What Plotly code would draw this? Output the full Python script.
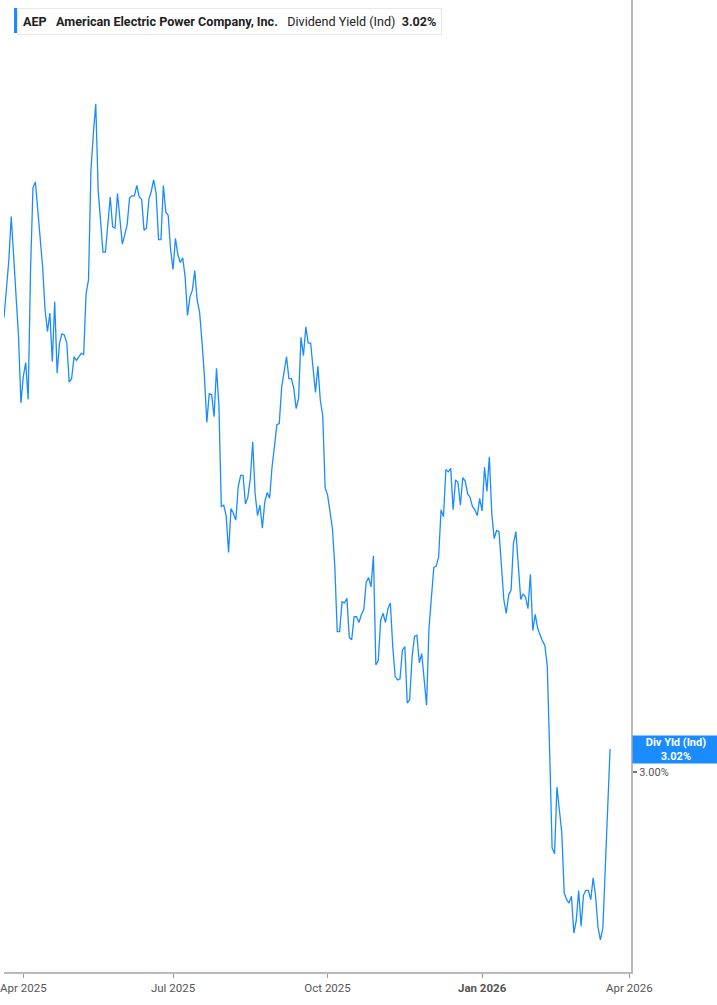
import pandas as pd
import plotly.graph_objects as go

# NYSE holidays inside the window (hidden from the trading-day axis)
holidays = ["2025-04-18", "2025-05-26", "2025-06-19", "2025-07-04", "2025-09-01",
            "2025-11-27", "2025-12-25", "2026-01-01", "2026-01-19", "2026-02-16"]
dates = pd.bdate_range("2025-03-20", "2026-03-20", freq="C", holidays=holidays)

# AEP dividend yield (indicated), %, one value per trading day
yields = [
    3.395, 3.422, 3.445, 3.483, 3.451, 3.419, 3.379, 3.321, 3.344, 3.356,
    3.324, 3.437, 3.508, 3.513, 3.489, 3.469, 3.439, 3.402, 3.383, 3.399,
    3.357, 3.409, 3.347, 3.373, 3.381, 3.380, 3.373, 3.339, 3.342, 3.361,
    3.358, 3.361, 3.364, 3.363, 3.416, 3.428, 3.523, 3.555, 3.581, 3.506,
    3.474, 3.452, 3.452, 3.474, 3.500, 3.474, 3.473, 3.503, 3.480, 3.459,
    3.467, 3.476, 3.499, 3.501, 3.501, 3.510, 3.500, 3.498, 3.471, 3.473,
    3.498, 3.505, 3.515, 3.503, 3.463, 3.463, 3.510, 3.487, 3.484, 3.454,
    3.437, 3.464, 3.450, 3.443, 3.447, 3.431, 3.397, 3.413, 3.419, 3.436,
    3.410, 3.400, 3.374, 3.344, 3.304, 3.329, 3.328, 3.309, 3.351, 3.319,
    3.231, 3.232, 3.223, 3.191, 3.229, 3.225, 3.219, 3.248, 3.258, 3.258,
    3.233, 3.239, 3.255, 3.287, 3.242, 3.223, 3.232, 3.212, 3.235, 3.243,
    3.238, 3.265, 3.283, 3.302, 3.303, 3.335, 3.348, 3.361, 3.342, 3.342,
    3.334, 3.316, 3.325, 3.378, 3.362, 3.387, 3.373, 3.373, 3.351, 3.330,
    3.353, 3.323, 3.310, 3.247, 3.241, 3.228, 3.212, 3.179, 3.122, 3.122,
    3.148, 3.147, 3.151, 3.117, 3.115, 3.135, 3.135, 3.130, 3.137, 3.141,
    3.165, 3.169, 3.161, 3.188, 3.093, 3.097, 3.132, 3.138, 3.130, 3.142,
    3.147, 3.109, 3.083, 3.080, 3.081, 3.106, 3.109, 3.060, 3.063, 3.100,
    3.118, 3.119, 3.095, 3.103, 3.081, 3.058, 3.125, 3.152, 3.178, 3.179,
    3.187, 3.228, 3.222, 3.263, 3.261, 3.264, 3.228, 3.254, 3.252, 3.232,
    3.256, 3.253, 3.242, 3.239, 3.231, 3.228, 3.223, 3.238, 3.227, 3.265,
    3.244, 3.274, 3.225, 3.203, 3.210, 3.209, 3.179, 3.150, 3.138, 3.154,
    3.158, 3.199, 3.209, 3.179, 3.150, 3.155, 3.152, 3.142, 3.172, 3.123,
    3.137, 3.125, 3.119, 3.114, 3.110, 3.092, 3.016, 2.934, 2.929, 2.987,
    2.967, 2.947, 2.895, 2.889, 2.886, 2.892, 2.860, 2.871, 2.897, 2.866,
    2.893, 2.897, 2.897, 2.889, 2.908, 2.892, 2.865, 2.854, 2.864, 2.912,
    2.970, 3.020,
]

tick_dates = ["2025-04-01", "2025-07-01", "2025-10-01", "2026-01-02", "2026-04-01"]
tick_labels = ["Apr 2025", "Jul 2025", "Oct 2025", "<b>Jan 2026</b>", "Apr 2026"]
y_ticks = [3.00]
y_tick_labels = ["3.00%"]

ticker = "AEP"
company = "American Electric Power Company, Inc."
metric = "Dividend Yield (Ind)"
short_metric = "Div Yld (Ind)"

n = min(len(dates), len(yields))
dates = dates[:n]
yields = yields[:n]
last = yields[-1]

BLUE = "#1a8cff"
AXIS = "#b9b9b9"
FONT = "Roboto, Inter, Arial, sans-serif"

fig = go.Figure()
fig.add_trace(go.Scatter(
    x=dates, y=yields, mode="lines",
    line=dict(color=BLUE, width=1.3),
    hovertemplate="%{x|%b %d, %Y}: %{y:.2f}%<extra></extra>",
    showlegend=False,
))

fig.update_layout(
    width=717, height=1005,
    margin=dict(l=0, r=86, t=0, b=33),
    paper_bgcolor="white", plot_bgcolor="white",
    font=dict(family=FONT, size=11, color="#555"),
    showlegend=False,
)

fig.update_xaxes(
    type="date",
    range=["2025-03-20", "2026-04-01 16:00"],
    rangebreaks=[dict(bounds=["sat", "mon"]), dict(values=holidays)],
    tickvals=tick_dates, ticktext=tick_labels,
    ticks="outside", ticklen=4, tickcolor="#9a9a9a", tickwidth=1,
    ticklabeloverflow="allow",
    tickfont=dict(family=FONT, size=11.5, color="#555"),
    showline=True, linecolor=AXIS, linewidth=2,
    showgrid=False, zeroline=False,
)

fig.update_yaxes(
    side="right",
    range=[2.8261, 3.6713],
    tickvals=y_ticks, ticktext=y_tick_labels,
    ticks="outside", ticklen=4, tickcolor="#777", tickwidth=2,
    tickfont=dict(family=FONT, size=11, color="#555"),
    showline=True, linecolor=AXIS, linewidth=2,
    showgrid=False, zeroline=False,
)

# current-value tag on the right axis
fig.add_annotation(
    x=1, xref="paper", xanchor="left", xshift=1,
    y=last, yref="y", yanchor="middle",
    text=f"<b>{short_metric}</b><br><b>{last:.2f}%</b>",
    showarrow=False, bgcolor=BLUE, borderpad=1,
    width=84, height=25, align="center",
    font=dict(family=FONT, size=11, color="white"),
)

# header legend box
fig.add_annotation(
    x=0, xref="paper", xanchor="left", xshift=13,
    y=1, yref="paper", yanchor="top", yshift=-8,
    text=(f"<b>{ticker}</b>&nbsp;&nbsp;&nbsp;<b>{company}</b>&nbsp;&nbsp;&nbsp;"
          f"{metric}&nbsp;&nbsp;<b>{last:.2f}%</b>"),
    showarrow=False, bgcolor="white", bordercolor="#e8e8e8", borderwidth=1,
    borderpad=5, align="left",
    font=dict(family=FONT, size=12.6, color="#222"),
)
fig.add_shape(
    type="rect", xref="paper", yref="paper",
    xsizemode="pixel", ysizemode="pixel",
    xanchor=0, yanchor=1,
    x0=10, x1=13, y0=-8, y1=-33,
    fillcolor=BLUE, line=dict(width=0), layer="above",
)

fig.write_html(
    "out.html",
    config={"displayModeBar": False},
    post_script="document.body.style.margin='0';",
)
